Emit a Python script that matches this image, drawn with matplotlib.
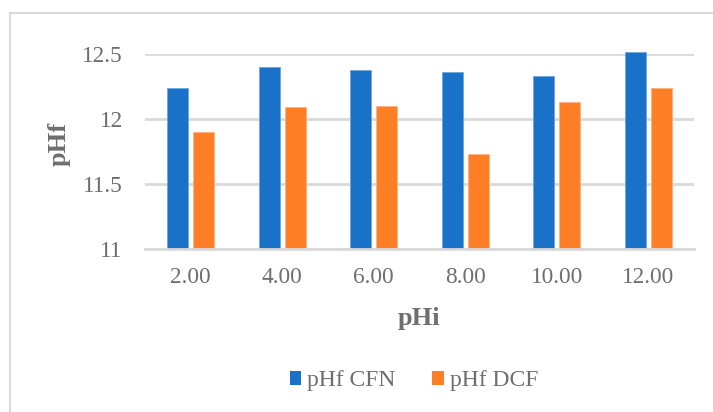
import matplotlib.pyplot as plt
from matplotlib.patches import Rectangle, Patch
import numpy as np

plt.rcParams['font.family'] = ['Liberation Serif', 'DejaVu Serif']

# данные: начальный pH и конечный pH для двух серий
categories = ['2.00', '4.00', '6.00', '8.00', '10.00', '12.00']
phf_cfn = [12.24, 12.40, 12.38, 12.36, 12.33, 12.52]
phf_dcf = [11.90, 12.09, 12.10, 11.73, 12.13, 12.24]

blue = '#1971C8'
orange = '#FF7F27'
grid_col = '#D9D9D9'
text_col = '#6E6E6E'

fig = plt.figure(figsize=(7.13, 4.12), dpi=100)
ax = fig.add_axes([145 / 713, 1 - 248.7 / 412, (694 - 145) / 713, (248.7 - 54.3) / 412])

x = np.arange(len(categories))
w = 0.226
b1 = ax.bar(x - 0.142, np.array(phf_cfn) - 11, w, bottom=11, color=blue,
            edgecolor='#6FA6DD', linewidth=0.6, zorder=3)
b2 = ax.bar(x + 0.142, np.array(phf_dcf) - 11, w, bottom=11, color=orange,
            edgecolor='#FFB27D', linewidth=0.6, zorder=3)
# столбец 12.52 выходит чуть выше верхней границы оси
for r in list(b1) + list(b2):
    r.set_clip_on(False)

ax.set_xlim(-0.5, len(categories) - 0.5)
ax.set_ylim(11, 12.5)
ax.set_yticks([11, 11.5, 12, 12.5])
ax.set_yticklabels(['11', '11.5', '12', '12.5'])
ax.set_xticks(x)
ax.set_xticklabels(categories)

# сетка и оси
ax.yaxis.grid(True, color=grid_col, linewidth=2, zorder=0)
for s in ['top', 'right', 'left']:
    ax.spines[s].set_visible(False)
ax.spines['bottom'].set_color(grid_col)
ax.spines['bottom'].set_linewidth(2)
ax.spines['bottom'].set_zorder(4)
ax.tick_params(axis='both', length=0, labelsize=16.8, labelcolor=text_col)
ax.tick_params(axis='y', pad=16)
ax.tick_params(axis='x', pad=20.4)
for lbl in ax.get_xticklabels():
    lbl.set_va('center')

# подписи осей
fig.text(419.5 / 713, 1 - 318 / 412, 'pHi', ha='center', va='center',
         fontsize=19, fontweight='bold', color=text_col)
fig.text(59 / 713, 1 - 144 / 412, 'pHf', ha='center', va='center', rotation=90,
         fontsize=19, fontweight='bold', color=text_col)

# легенда
handles = [Patch(facecolor=blue, label='pHf CFN'), Patch(facecolor=orange, label='pHf DCF')]
fig.legend(handles=handles, loc='center', bbox_to_anchor=(414 / 713, 1 - 380.7 / 412),
           ncol=2, frameon=False, fontsize=17, labelcolor=text_col,
           handlelength=0.5, handleheight=0.5, handletextpad=0.25, columnspacing=1.55)

# рамка области диаграммы
fig.patches.append(Rectangle((10.3 / 713, -0.1), 1.2, 1.1 - 12.7 / 412,
                             transform=fig.transFigure, fill=False,
                             edgecolor=grid_col, linewidth=1.5))

fig.savefig('out.png', dpi=100)
